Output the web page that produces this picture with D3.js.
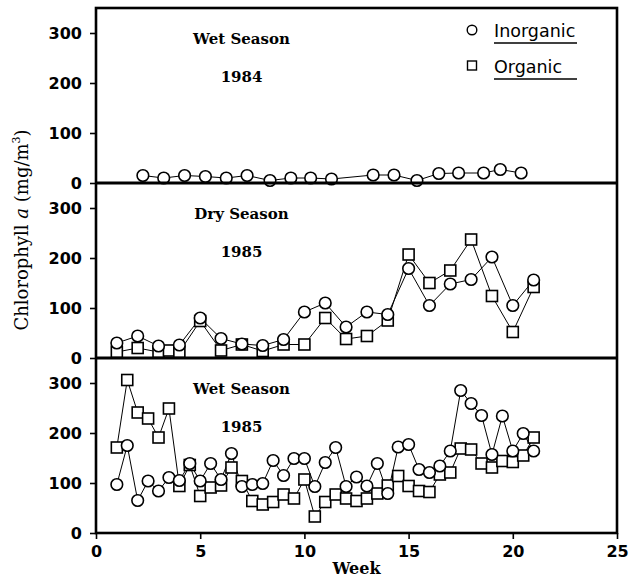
<!DOCTYPE html>
<html>
<head>
<meta charset="utf-8">
<script src="https://cdn.jsdelivr.net/npm/d3@7/dist/d3.min.js"></script>
<style>
  body { margin: 0; background: #fff; }
  svg { display: block; }
</style>
</head>
<body>
<svg id="chart" width="629" height="578"></svg>
<script>
// Axis ticks
const yTicks = [0, 100, 200, 300];
const xTicks = [0, 5, 10, 15, 20, 25];

// Panel headings
const seasonNames = ["Wet Season", "Dry Season", "Wet Season"];
const seasonYears = ["1984", "1985", "1985"];

// Wet season 1984 (inorganic only)
const wet84Weeks = [2.25, 3.25, 4.25, 5.25, 6.25, 7.25, 8.35, 9.35, 10.3, 11.3,
                    13.3, 14.3, 15.4, 16.45, 17.4, 18.6, 19.4, 20.4];
const wet84Inorganic = [15, 10, 15, 13, 10, 15, 5, 10, 10, 8,
                        16, 16, 5, 19, 20, 20, 27, 20];

// Dry season 1985
const dry85InorganicWeeks = [1, 2, 3, 4, 5, 6, 7, 8, 9, 10, 11, 12, 13, 14, 15, 16, 17, 18, 19, 20, 21];
const dry85Inorganic = [30, 44, 24, 26, 80, 39, 28, 25, 37, 92, 110, 62, 92, 87, 179, 105, 148, 157, 202, 105, 156];
const dry85OrganicWeeks = [1, 2, 3, 3.5, 4, 5, 6, 7, 8, 9, 10, 11, 12, 13, 14, 15, 16, 17, 18, 19, 20, 21];
const dry85Organic = [12, 20, 12, 15, 12, 74, 15, 27, 14, 27, 27, 80, 38, 44, 75, 207, 150, 175, 237, 124, 52, 142];

// Wet season 1985 (sampled twice a week)
const wet85Weeks = [1, 1.5, 2, 2.5, 3, 3.5, 4, 4.5, 5, 5.5, 6, 6.5, 7, 7.5, 8, 8.5, 9, 9.5, 10, 10.5,
                    11, 11.5, 12, 12.5, 13, 13.5, 14, 14.5, 15, 15.5, 16, 16.5, 17, 17.5, 18, 18.5,
                    19, 19.5, 20, 20.5, 21];
const wet85Inorganic = [97, 175, 65, 104, 84, 111, 105, 139, 104, 139, 107, 159, 93, 97, 99, 145, 115, 149, 149, 93,
                        141, 171, 93, 112, 94, 139, 79, 172, 177, 127, 121, 134, 164, 285, 259, 235,
                        157, 234, 164, 199, 164];
const wet85Organic = [171, 306, 241, 229, 191, 249, 94, 136, 74, 91, 95, 131, 104, 64, 57, 62, 77, 69, 107, 33,
                      62, 77, 69, 64, 69, 79, 95, 114, 94, 84, 82, 117, 121, 169, 167, 139,
                      131, 144, 142, 155, 191];

const zip = (ws, vs) => ws.map((w, i) => ({ w, v: vs[i] }));

const panels = [
  { inorganic: zip(wet84Weeks, wet84Inorganic), organic: [] },
  { inorganic: zip(dry85InorganicWeeks, dry85Inorganic), organic: zip(dry85OrganicWeeks, dry85Organic) },
  { inorganic: zip(wet85Weeks, wet85Inorganic), organic: zip(wet85Weeks, wet85Organic) }
];

const plotLeft = 96, plotRight = 617, plotTop = 8, panelH = 175;
const svg = d3.select("#chart");

const x = d3.scaleLinear().domain([0, 25]).range([plotLeft, plotRight]);

const tickFont = "'DejaVu Sans', sans-serif";
const serifFont = "'DejaVu Serif', serif";

panels.forEach((p, i) => {
  const y0 = plotTop + i * panelH;
  const y = d3.scaleLinear().domain([0, 350]).range([y0 + panelH, y0]);

  // left axis
  const ax = svg.append("g")
    .attr("transform", `translate(${plotLeft},0)`)
    .call(d3.axisLeft(y).tickValues(yTicks).tickSize(6).tickSizeOuter(0).tickPadding(8));
  ax.select(".domain").remove();
  ax.selectAll(".tick line").attr("stroke", "#000").attr("stroke-width", 1.6);
  ax.selectAll(".tick text")
    .attr("font-family", tickFont).attr("font-weight", "bold")
    .attr("font-size", 16).attr("fill", "#000");

  // headings
  svg.append("text").attr("x", 241.5).attr("y", y0 + 36)
    .attr("text-anchor", "middle").attr("font-family", serifFont)
    .attr("font-weight", "bold").attr("font-size", 15).text(seasonNames[i]);
  svg.append("text").attr("x", 241.5).attr("y", y0 + 74)
    .attr("text-anchor", "middle").attr("font-family", serifFont)
    .attr("font-weight", "bold").attr("font-size", 15).text(seasonYears[i]);

  const line = d3.line().x(d => x(d.w)).y(d => y(d.v));
  const g = svg.append("g");

  if (p.organic.length) {
    g.append("path").datum(p.organic).attr("d", line)
      .attr("fill", "none").attr("stroke", "#000").attr("stroke-width", 1);
  }
  g.append("path").datum(p.inorganic).attr("d", line)
    .attr("fill", "none").attr("stroke", "#000").attr("stroke-width", 1);

  // organic: open squares
  const s = 11;
  g.selectAll("rect.org").data(p.organic).join("rect").attr("class", "org")
    .attr("x", d => x(d.w) - s / 2).attr("y", d => y(d.v) - s / 2)
    .attr("width", s).attr("height", s)
    .attr("fill", "#fff").attr("stroke", "#000").attr("stroke-width", 1.6);

  // inorganic: open circles
  g.selectAll("circle.inorg").data(p.inorganic).join("circle").attr("class", "inorg")
    .attr("cx", d => x(d.w)).attr("cy", d => y(d.v)).attr("r", 5.8)
    .attr("fill", "#fff").attr("stroke", "#000").attr("stroke-width", 1.6);
});

// bottom axis
const plotBottom = plotTop + 3 * panelH;
const bx = svg.append("g")
  .attr("transform", `translate(0,${plotBottom})`)
  .call(d3.axisBottom(x).tickValues(xTicks).tickSize(6).tickSizeOuter(0).tickPadding(7));
bx.select(".domain").remove();
bx.selectAll(".tick line").attr("stroke", "#000").attr("stroke-width", 1.6);
bx.selectAll(".tick text")
  .attr("font-family", tickFont).attr("font-weight", "bold")
  .attr("font-size", 16).attr("fill", "#000");

// frame and panel dividers
svg.append("rect").attr("x", plotLeft).attr("y", plotTop)
  .attr("width", plotRight - plotLeft).attr("height", 3 * panelH)
  .attr("fill", "none").attr("stroke", "#000").attr("stroke-width", 2.6);
[1, 2].forEach(k => {
  svg.append("line").attr("x1", plotLeft).attr("x2", plotRight)
    .attr("y1", plotTop + k * panelH).attr("y2", plotTop + k * panelH)
    .attr("stroke", "#000").attr("stroke-width", 3);
});

// axis titles
svg.append("text").attr("x", (plotLeft + plotRight) / 2).attr("y", 574)
  .attr("text-anchor", "middle").attr("font-family", serifFont)
  .attr("font-weight", "bold").attr("font-size", 16).text("Week");

const yl = svg.append("text")
  .attr("transform", "translate(28,230) rotate(-90)")
  .attr("text-anchor", "middle").attr("font-family", serifFont)
  .attr("font-size", 18).attr("fill", "#000");
yl.append("tspan").text("Chlorophyll ");
yl.append("tspan").attr("font-style", "italic").text("a");
yl.append("tspan").text(" (mg/m");
yl.append("tspan").attr("font-size", 11).attr("dy", -8).text("3");
yl.append("tspan").attr("dy", 8).text(")");

// legend
const lg = svg.append("g");
lg.append("circle").attr("cx", 472).attr("cy", 30).attr("r", 4.8)
  .attr("fill", "#fff").attr("stroke", "#000").attr("stroke-width", 1.4);
lg.append("rect").attr("x", 467.5).attr("y", 61).attr("width", 9).attr("height", 9)
  .attr("fill", "#fff").attr("stroke", "#000").attr("stroke-width", 1.4);
lg.append("text").attr("x", 494).attr("y", 36.5).attr("font-family", tickFont)
  .attr("font-size", 17.5).text("Inorganic");
lg.append("text").attr("x", 494).attr("y", 73).attr("font-family", tickFont)
  .attr("font-size", 17.5).text("Organic");
[43, 79].forEach(yy => {
  lg.append("line").attr("x1", 494).attr("x2", 577).attr("y1", yy).attr("y2", yy)
    .attr("stroke", "#000").attr("stroke-width", 1.4);
});
</script>
</body>
</html>
